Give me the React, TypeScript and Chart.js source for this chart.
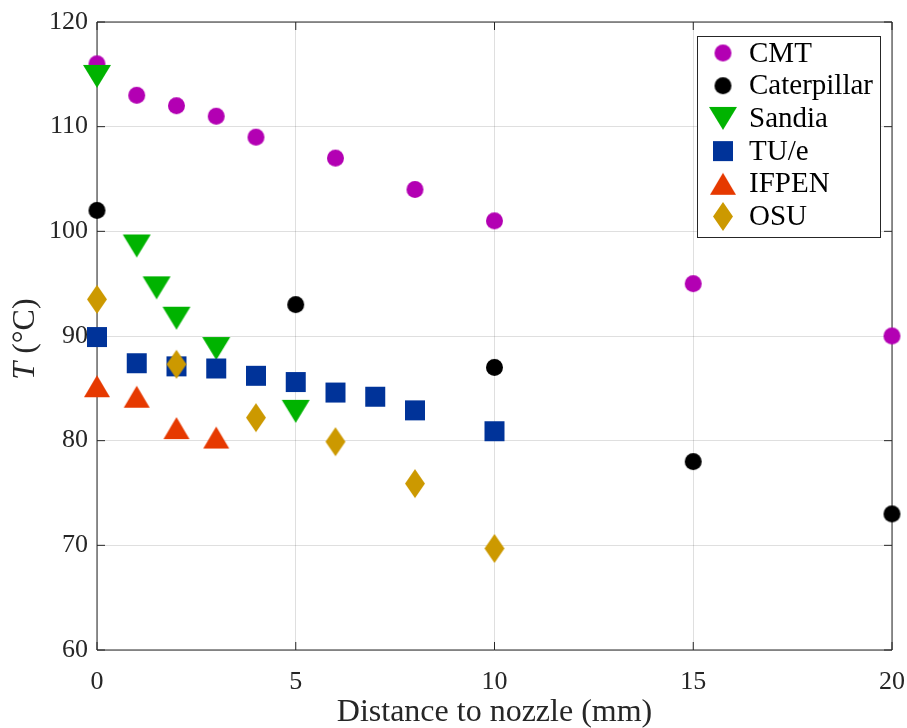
import React, { useEffect, useRef } from "react";
import { Chart, registerables } from "chart.js";

Chart.register(...registerables);

// ---- Data ----
const seriesNames = ["CMT", "Caterpillar", "Sandia", "TU/e", "IFPEN", "OSU"];

const cmtX = [0, 1, 2, 3, 4, 6, 8, 10, 15, 20];
const cmtY = [116, 113, 112, 111, 109, 107, 104, 101, 95, 90];

const catX = [0, 5, 10, 15, 20];
const catY = [102, 93, 87, 78, 73];

const sandiaX = [0, 1, 1.5, 2, 3, 5];
const sandiaY = [114.8, 98.6, 94.6, 91.7, 88.8, 82.8];

const tueX = [0, 1, 2, 3, 4, 5, 6, 7, 8, 10];
const tueY = [89.9, 87.4, 87.1, 86.9, 86.2, 85.6, 84.6, 84.2, 82.9, 80.9];

const ifpenX = [0, 1, 2, 3];
const ifpenY = [85.2, 84.2, 81.2, 80.3];

const osuX = [0, 2, 4, 6, 8, 10];
const osuY = [93.5, 87.3, 82.2, 79.9, 75.9, 69.7];

const xTicks = [0, 5, 10, 15, 20];
const yTicks = [60, 70, 80, 90, 100, 110, 120];

const xTitle = "Distance to nozzle (mm)";
const yTitleItalic = "T";
const yTitleRest = " (°C)";

const colors = ["#b300b3", "#000000", "#00b300", "#003399", "#e63900", "#cc9900"];
const shapes = ["circle", "circle", "triDown", "square", "triUp", "diamond"];

const FONT = '"Liberation Serif", "Times New Roman", serif';
const AXIS_COLOR = "#262626";

function makeMarker(shape: string, color: string): HTMLCanvasElement {
  let w = 17, h = 17;
  if (shape === "triDown") { w = 28; h = 23; }
  if (shape === "triUp") { w = 26; h = 22; }
  if (shape === "square") { w = 20; h = 20; }
  if (shape === "diamond") { w = 20; h = 29; }
  const c = document.createElement("canvas");
  c.width = w + 2;
  c.height = h + 2;
  const ctx = c.getContext("2d")!;
  const cx = c.width / 2, cy = c.height / 2;
  ctx.fillStyle = color;
  ctx.beginPath();
  if (shape === "circle") {
    ctx.arc(cx, cy, w / 2, 0, Math.PI * 2);
  } else if (shape === "triDown") {
    ctx.moveTo(cx - w / 2, cy - h / 2);
    ctx.lineTo(cx + w / 2, cy - h / 2);
    ctx.lineTo(cx, cy + h / 2);
    ctx.closePath();
  } else if (shape === "triUp") {
    ctx.moveTo(cx - w / 2, cy + h / 2);
    ctx.lineTo(cx + w / 2, cy + h / 2);
    ctx.lineTo(cx, cy - h / 2);
    ctx.closePath();
  } else if (shape === "square") {
    ctx.rect(cx - w / 2, cy - h / 2, w, h);
  } else if (shape === "diamond") {
    ctx.moveTo(cx, cy - h / 2);
    ctx.lineTo(cx + w / 2, cy);
    ctx.lineTo(cx, cy + h / 2);
    ctx.lineTo(cx - w / 2, cy);
    ctx.closePath();
  }
  ctx.fill();
  return c;
}

function pts(xs: number[], ys: number[]) {
  return xs.map((x, i) => ({ x, y: ys[i] }));
}

export default function App() {
  const ref = useRef<HTMLCanvasElement | null>(null);

  useEffect(() => {
    document.body.style.margin = "0";
    const canvas = ref.current;
    if (!canvas) return;

    const markers = shapes.map((s, i) => makeMarker(s, colors[i]));
    const allData = [
      pts(cmtX, cmtY),
      pts(catX, catY),
      pts(sandiaX, sandiaY),
      pts(tueX, tueY),
      pts(ifpenX, ifpenY),
      pts(osuX, osuY),
    ];

    const datasets = allData.map((d, i) => ({
      label: seriesNames[i],
      data: d,
      pointStyle: markers[i],
      pointRadius: 10,
      backgroundColor: colors[i],
      borderColor: colors[i],
      showLine: false,
      clip: false,
      order: seriesNames.length - i,
    }));

    const boxPlugin = {
      id: "boxPlugin",
      beforeDatasetsDraw(chart: any) {
        const { ctx, chartArea } = chart;
        const { left, right, top, bottom } = chartArea;
        const xs = chart.scales.x;
        const ys = chart.scales.y;
        ctx.save();
        ctx.strokeStyle = AXIS_COLOR;
        ctx.lineWidth = 1;
        ctx.beginPath();
        ctx.rect(left, top, right - left, bottom - top);
        const tl = 8;
        xTicks.forEach((v) => {
          const px = xs.getPixelForValue(v);
          ctx.moveTo(px, bottom);
          ctx.lineTo(px, bottom - tl);
          ctx.moveTo(px, top);
          ctx.lineTo(px, top + tl);
        });
        yTicks.forEach((v) => {
          const py = ys.getPixelForValue(v);
          ctx.moveTo(left, py);
          ctx.lineTo(left + tl, py);
          ctx.moveTo(right, py);
          ctx.lineTo(right - tl, py);
        });
        ctx.stroke();

        // y-axis title with italic T
        ctx.fillStyle = AXIS_COLOR;
        ctx.textBaseline = "middle";
        ctx.textAlign = "left";
        ctx.translate(26, (top + bottom) / 2 + 3);
        ctx.rotate(-Math.PI / 2);
        const f1 = `italic 32px ${FONT}`;
        const f2 = `32px ${FONT}`;
        ctx.font = f1;
        const w1 = ctx.measureText(yTitleItalic).width;
        ctx.font = f2;
        const w2 = ctx.measureText(yTitleRest).width;
        const x0 = -(w1 + w2) / 2;
        ctx.font = f1;
        ctx.fillText(yTitleItalic, x0, 0);
        ctx.font = f2;
        ctx.fillText(yTitleRest, x0 + w1, 0);
        ctx.restore();
      },
      afterDatasetsDraw(chart: any) {
        const { ctx } = chart;
        // legend box
        const bx = 697, by = 36, bw = 183, bh = 201;
        ctx.save();
        ctx.fillStyle = "#ffffff";
        ctx.fillRect(bx, by, bw, bh);
        ctx.strokeStyle = AXIS_COLOR;
        ctx.lineWidth = 1;
        ctx.strokeRect(bx + 0.5, by + 0.5, bw, bh);
        ctx.font = `29px ${FONT}`;
        ctx.textBaseline = "middle";
        ctx.textAlign = "left";
        ctx.fillStyle = "#000000";
        chart.data.datasets.forEach((ds: any, i: number) => {
          const cy = 53 + i * 32.7;
          const m = markers[i];
          ctx.drawImage(m, 723 - m.width / 2, cy - m.height / 2);
          ctx.fillText(ds.label, 749, cy + 1);
        });
        ctx.restore();
      },
    };

    const zeroPad = (s: any) => {
      s.paddingLeft = 0;
      s.paddingRight = 0;
      s.paddingTop = 0;
      s.paddingBottom = 0;
    };

    const chart = new Chart(canvas, {
      type: "scatter",
      data: { datasets },
      plugins: [boxPlugin],
      options: {
        responsive: false,
        animation: false,
        devicePixelRatio: 1,
        layout: { padding: { top: 22, right: 15, left: 0, bottom: 0 } },
        plugins: {
          legend: { display: false },
          tooltip: { enabled: false },
          title: { display: false },
        },
        scales: {
          x: {
            type: "linear",
            min: 0,
            max: 20,
            afterBuildTicks: (s: any) => {
              s.ticks = xTicks.map((v) => ({ value: v }));
            },
            afterFit: (s: any) => {
              s.height = 78;
              zeroPad(s);
            },
            ticks: {
              color: AXIS_COLOR,
              font: { family: FONT, size: 26 },
              padding: 17,
              maxRotation: 0,
              autoSkip: false,
            },
            grid: { color: "rgba(38,38,38,0.15)", drawTicks: false, lineWidth: 1 },
            border: { display: false },
            title: {
              display: true,
              text: xTitle,
              color: AXIS_COLOR,
              font: { family: FONT, size: 32 },
              padding: { top: 0, bottom: -4 },
            },
          },
          y: {
            type: "linear",
            min: 60,
            max: 120,
            afterBuildTicks: (s: any) => {
              s.ticks = yTicks.map((v) => ({ value: v }));
            },
            afterFit: (s: any) => {
              s.width = 97;
              zeroPad(s);
            },
            ticks: {
              color: AXIS_COLOR,
              font: { family: FONT, size: 26 },
              padding: 9,
              autoSkip: false,
            },
            grid: { color: "rgba(38,38,38,0.15)", drawTicks: false, lineWidth: 1 },
            border: { display: false },
          },
        },
      },
    } as any);

    return () => {
      chart.destroy();
    };
  }, []);

  return (
    <div style={{ width: 907, height: 728, background: "#ffffff" }}>
      <canvas ref={ref} width={907} height={728} />
    </div>
  );
}
